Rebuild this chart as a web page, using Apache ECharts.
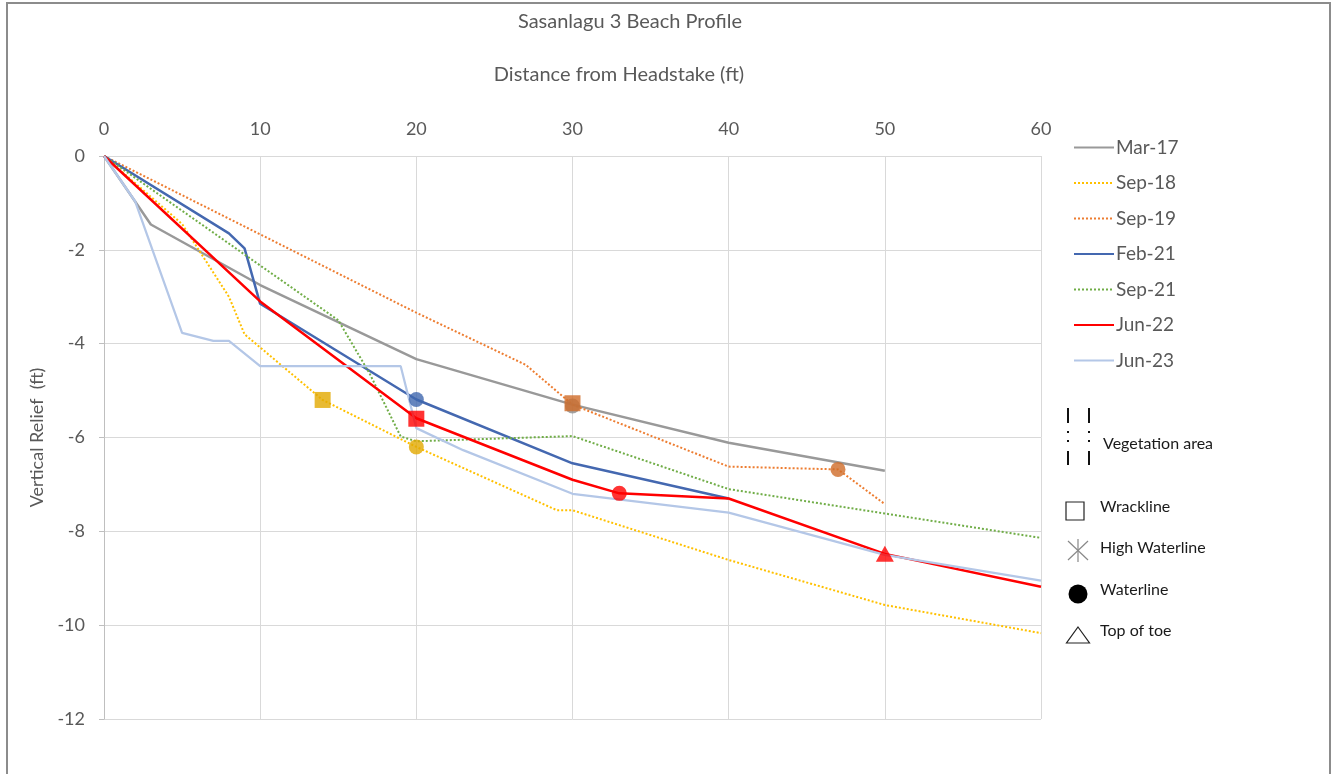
<!DOCTYPE html>
<html>
<head>
<meta charset="utf-8">
<script src="https://cdn.jsdelivr.net/npm/echarts@6/dist/echarts.min.js"></script>
<style>
html,body{margin:0;padding:0;background:#fff;}
#chart{width:1335px;height:774px;}
</style>
</head>
<body>
<div id="chart"></div>
<script>
// ---------- DATA ----------
const seriesNames = ['Mar-17', 'Sep-18', 'Sep-19', 'Feb-21', 'Sep-21', 'Jun-22', 'Jun-23'];

const mar17X = [0, 3, 10, 20, 30, 40, 50];
const mar17Y = [0, -1.46, -2.75, -4.33, -5.3, -6.11, -6.71];

const sep18X = [0, 5, 8, 9, 14, 20, 29, 30, 40, 50, 60];
const sep18Y = [0, -1.45, -3.0, -3.8, -5.2, -6.2, -7.55, -7.55, -8.61, -9.57, -10.17];

const sep19X = [0, 20, 27, 30, 40, 47, 50];
const sep19Y = [0, -3.34, -4.45, -5.3, -6.62, -6.68, -7.42];

const feb21X = [0, 8, 9, 10, 20, 30, 40];
const feb21Y = [0, -1.65, -1.97, -3.15, -5.19, -6.55, -7.3];

const sep21X = [0, 15, 17, 19, 20, 30, 40, 50, 60];
const sep21Y = [0, -3.5, -4.63, -5.98, -6.08, -5.97, -7.1, -7.62, -8.14];

const jun22X = [0, 10, 20, 30, 33, 40, 50, 60];
const jun22Y = [0, -3.1, -5.59, -6.9, -7.19, -7.3, -8.48, -9.18];

const jun23X = [0, 2, 5, 7, 8, 10, 19, 20, 23, 30, 40, 50, 60];
const jun23Y = [0, -0.97, -3.77, -3.94, -3.94, -4.48, -4.48, -5.8, -6.27, -7.2, -7.6, -8.5, -9.05];

// Feature markers: order of entries = Sep-18, Sep-19, Jun-22
const wracklineX = [14, 30, 20];
const wracklineY = [-5.2, -5.27, -5.6];
// Waterline: Mar-17, Sep-18, Sep-19, Feb-21, Jun-22
const waterlineX = [30, 20, 47, 20, 33];
const waterlineY = [-5.33, -6.2, -6.68, -5.19, -7.19];
// Top of toe: Jun-22
const toeX = [50];
const toeY = [-8.48];

const xTicks = [0, 10, 20, 30, 40, 50, 60];
const yTicks = [0, -2, -4, -6, -8, -10, -12];

const legend2Labels = ['Vegetation area', 'Wrackline', 'High Waterline', 'Waterline', 'Top of toe'];

// ---------- STYLE ----------
const FONT = 'Lato, "Open Sans", sans-serif';
const TXT = '#595959';
const lineColors = ['#999999', '#FFC000', '#ED7D31', '#4468B0', '#70AD47', '#FF0000', '#B4C7E7'];
const lineTypes = ['solid', [2, 2], [2, 2], 'solid', [2, 2], 'solid', 'solid'];
const lineWidths = [2.5, 2, 2, 2.5, 2, 2.5, 2.25];
const wrackColors = ['#E2A900', '#D06C28', '#FF0000'];
const waterColors = ['#8C8C8C', '#E2A900', '#D06C28', '#3F66AE', '#FF0000'];
const toeColors = ['#FF0000'];

function zip(xs, ys) { return xs.map((x, i) => [x, ys[i]]); }
const allX = [mar17X, sep18X, sep19X, feb21X, sep21X, jun22X, jun23X];
const allY = [mar17Y, sep18Y, sep19Y, feb21Y, sep21Y, jun22Y, jun23Y];

const lineSeries = seriesNames.map((name, i) => ({
  name: name,
  type: 'line',
  data: zip(allX[i], allY[i]),
  symbol: 'none',
  showSymbol: false,
  smooth: false,
  lineStyle: { color: lineColors[i], width: lineWidths[i], type: lineTypes[i] },
  itemStyle: { color: lineColors[i] },
  z: 2 + i,
  animation: false
}));

function markerData(xs, ys, colors) {
  return xs.map((x, i) => ({ value: [x, ys[i]], itemStyle: { color: colors[i] } }));
}

const markerSeries = [
  { type: 'scatter', symbol: 'circle', symbolSize: 15, data: markerData(waterlineX, waterlineY, waterColors), z: 20, animation: false, silent: true },
  { type: 'scatter', symbol: 'rect', symbolSize: 16, data: markerData(wracklineX, wracklineY, wrackColors), z: 21, animation: false, silent: true },
  { type: 'scatter', symbol: 'triangle', symbolSize: [18, 16], data: markerData(toeX, toeY, toeColors), z: 22, animation: false, silent: true }
];

// Custom feature legend graphics
const LX = 1078;
const g2 = [];
g2.push({ type: 'rect', shape: { x: 7, y: 3, width: 1323, height: 790 }, style: { fill: 'none', stroke: '#8C8C8C', lineWidth: 2 }, silent: true });
g2.push({ type: 'text', style: { text: 'Sasanlagu 3 Beach Profile', x: 630, y: 22, textAlign: 'center', textVerticalAlign: 'middle', align: 'center', verticalAlign: 'middle', font: '20px ' + FONT, fill: TXT } });
g2.push({ type: 'text', style: { text: 'Distance from Headstake (ft)', x: 619, y: 75, textAlign: 'center', textVerticalAlign: 'middle', align: 'center', verticalAlign: 'middle', font: '20px ' + FONT, fill: TXT } });
[1068, 1089].forEach(x => {
  g2.push({ type: 'line', shape: { x1: x, y1: 408, x2: x, y2: 423 }, style: { stroke: '#111', lineWidth: 2 } });
  g2.push({ type: 'rect', shape: { x: x - 1, y: 431, width: 2, height: 2 }, style: { fill: '#111' } });
  g2.push({ type: 'rect', shape: { x: x - 1, y: 440, width: 2, height: 2 }, style: { fill: '#111' } });
  g2.push({ type: 'line', shape: { x1: x, y1: 451, x2: x, y2: 465 }, style: { stroke: '#111', lineWidth: 2 } });
});
g2.push({ type: 'rect', shape: { x: 1066, y: 502, width: 18, height: 18 }, style: { fill: 'none', stroke: '#222', lineWidth: 1.2 } });
g2.push({ type: 'line', shape: { x1: LX, y1: 539, x2: LX, y2: 562 }, style: { stroke: '#888', lineWidth: 1.2 } });
g2.push({ type: 'line', shape: { x1: LX - 10, y1: 541, x2: LX + 10, y2: 560 }, style: { stroke: '#888', lineWidth: 1.2 } });
g2.push({ type: 'line', shape: { x1: LX + 10, y1: 541, x2: LX - 10, y2: 560 }, style: { stroke: '#888', lineWidth: 1.2 } });
g2.push({ type: 'circle', shape: { cx: LX, cy: 594, r: 9.5 }, style: { fill: '#000' } });
g2.push({ type: 'polygon', shape: { points: [[LX, 627], [LX + 11.5, 643], [LX - 11.5, 643]] }, style: { fill: 'none', stroke: '#222', lineWidth: 1.2 } });
const l2pos = [[1103, 444], [1100, 507], [1100, 548], [1100, 590], [1100, 631]];
legend2Labels.forEach((t, i) => {
  g2.push({ type: 'text', style: { text: t, x: l2pos[i][0], y: l2pos[i][1], textAlign: 'left', textVerticalAlign: 'middle', align: 'left', verticalAlign: 'middle', font: '16px ' + FONT, fill: '#1a1a1a' } });
});

const chart = echarts.init(document.getElementById('chart'), null, { renderer: 'canvas' });
chart.setOption({
  backgroundColor: '#ffffff',
  animation: false,
  textStyle: { fontFamily: FONT },
  grid: { left: 104, right: 294, top: 156, bottom: 55, containLabel: false },
  legend: {
    orient: 'vertical',
    left: 1068,
    top: 133,
    itemWidth: 40,
    itemHeight: 14,
    itemGap: 16.5,
    data: seriesNames,
    itemStyle: { opacity: 0 },
    textStyle: { color: TXT, fontSize: 19, fontFamily: FONT, padding: [0, 0, 0, -3] },
    selectedMode: false
  },
  xAxis: {
    type: 'value',
    position: 'top',
    min: 0, max: 60, interval: 10,
    axisLine: { show: false },
    axisTick: { show: false },
    axisLabel: { color: TXT, fontSize: 18, fontFamily: FONT, margin: 18,
      formatter: v => xTicks.includes(v) ? String(v) : '' },
    splitLine: { show: true, lineStyle: { color: '#D9D9D9', width: 1 } }
  },
  yAxis: {
    type: 'value',
    min: -12, max: 0, interval: 2,
    name: 'Vertical Relief  (ft)',
    nameLocation: 'middle',
    nameGap: 52,
    nameTextStyle: { color: TXT, fontSize: 18, fontFamily: FONT },
    axisLine: { show: true, lineStyle: { color: '#BFBFBF', width: 1 } },
    axisTick: { show: true, length: 5, lineStyle: { color: '#BFBFBF' } },
    axisLabel: { color: TXT, fontSize: 18, fontFamily: FONT, margin: 19,
      formatter: v => yTicks.includes(v) ? String(v) : '' },
    splitLine: { show: true, lineStyle: { color: '#D9D9D9', width: 1 } }
  },
  series: lineSeries.concat(markerSeries),
  graphic: { elements: g2 }
});
</script>
</body>
</html>
